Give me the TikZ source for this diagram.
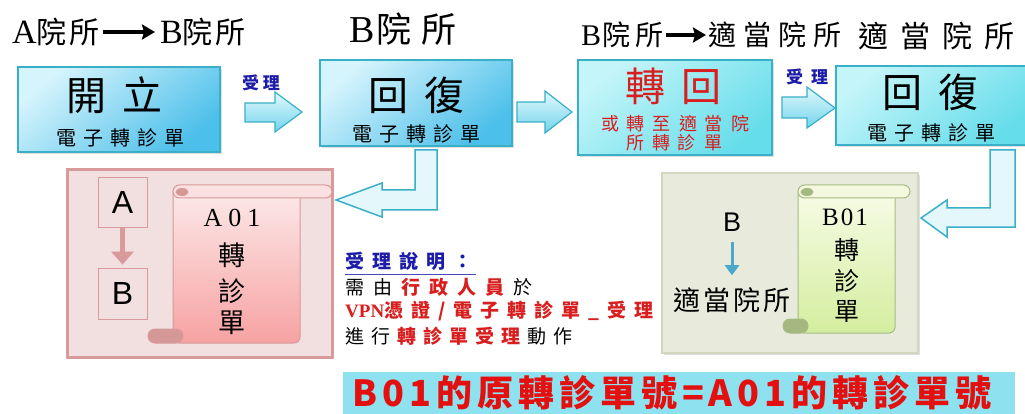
\documentclass[tikz,border=0pt]{standalone}
\usepackage{fontspec}
\setmainfont{Liberation Serif}
\newfontfamily\cjk{Noto Sans CJK TC}
\newfontfamily\arialf{Liberation Sans}
\usetikzlibrary{arrows.meta,shadows}
\definecolor{boxline}{HTML}{3AAFC8}
\definecolor{blueL}{HTML}{D6F4FC}
\definecolor{blueD}{HTML}{4CBFEA}
\definecolor{cyanL}{HTML}{C4F5F9}
\definecolor{cyanD}{HTML}{66DDEA}
\definecolor{arrL}{HTML}{E2F9FD}
\definecolor{arrD}{HTML}{72D4EC}
\definecolor{bentfill}{HTML}{E4F8FC}
\definecolor{redtxt}{HTML}{D81E1E}
\definecolor{bluetxt}{HTML}{1C1CA8}
\definecolor{pinkfill}{HTML}{F2DFDF}
\definecolor{pinkline}{HTML}{D89A9A}
\definecolor{pinkTop}{HTML}{FCE8E8}
\definecolor{pinkBot}{HTML}{F7A2A2}
\definecolor{pinkRoll}{HTML}{FAE0E0}
\definecolor{pinkCurl}{HTML}{D69797}
\definecolor{greenfill}{HTML}{E8EBDB}
\definecolor{greenline}{HTML}{D2D8C0}
\definecolor{gTop}{HTML}{F7FBE6}
\definecolor{gBot}{HTML}{D3EE9E}
\definecolor{gLine}{HTML}{A8BA86}
\definecolor{gRoll}{HTML}{F3F8DE}
\definecolor{gCurl}{HTML}{A4B880}
\definecolor{bararrow}{HTML}{4AA8CC}
\definecolor{barfill}{HTML}{8EE2F0}
\definecolor{bartxt}{HTML}{E41010}
\makeatletter
\newcommand\spaced[2]{\def\sp@gap{\hspace{#1}}\let\sp@sep\relax\@tfor\sp@c:=#2\do{\sp@sep\sp@c\let\sp@sep\sp@gap}}
\makeatother
\newcommand\myscroll[7]{%
 \path[#7body] (#2,#5+6.5) -- (#3,#5+6.5) {[rounded corners=6pt] -- (#3,#6) -- (#2,#6)} -- cycle;
 \path[#7curl, rounded corners=7pt] (#1,#6-14) rectangle (#2+10,#6);
 \path[#7roll, rounded corners=6.5pt] (#2,#5) rectangle (#4,#5+13);
 \path[#7curl] (#2+9,#5+7) ellipse (6 and 3.5);
}
\begin{document}
\begin{tikzpicture}[x=1pt,y=-1pt,
  bluebox/.style={draw=boxline, line width=1.5pt, top color=blueL, bottom color=blueD, shading angle=40,
     drop shadow={shadow xshift=2pt, shadow yshift=-2pt, opacity=0.25}, inner sep=0},
  cyanbox/.style={draw=boxline, line width=1.5pt, top color=cyanL, bottom color=cyanD, shading angle=40,
     drop shadow={shadow xshift=2pt, shadow yshift=-2pt, opacity=0.25}, inner sep=0},
  blkarrow/.style={draw=boxline, line width=1.2pt, top color=arrL, bottom color=arrD, line join=miter},
  bentarrow/.style={draw=boxline, line width=1.5pt, fill=bentfill, line join=miter},
  bigtxt/.style={font=\cjk\fontsize{40}{44}\selectfont, inner sep=0},
  smalltxt/.style={font=\cjk\fontsize{20}{22}\selectfont, inner sep=0},
  acctxt/.style={font=\cjk\bfseries\fontsize{17}{19}\selectfont, text=bluetxt, inner sep=0},
  ttl/.style={inner sep=0, anchor=west},
  ttlarr/.style={line width=3.2pt, -{Stealth[length=13pt,width=15pt,inset=2pt]}},
  pinkpanel/.style={draw=pinkline, line width=3pt, fill=pinkfill,
     drop shadow={shadow xshift=2pt, shadow yshift=-2pt, opacity=0.25}, inner sep=0},
  greenpanel/.style={draw=greenline, line width=1.2pt, fill=greenfill,
     drop shadow={shadow xshift=2pt, shadow yshift=-2pt, opacity=0.25}, inner sep=0},
  letterbox/.style={draw=pinkline, line width=0.8pt, inner sep=0, font=\arialf\fontsize{32}{34}\selectfont},
  pbody/.style={top color=pinkTop, bottom color=pinkBot, draw=pinkline, line width=1pt},
  proll/.style={fill=pinkRoll, draw=pinkline, line width=1pt},
  pcurl/.style={fill=pinkCurl, draw=pinkline, line width=1pt},
  gbody/.style={top color=gTop, bottom color=gBot, draw=gLine, line width=1pt},
  groll/.style={fill=gRoll, draw=gLine, line width=1pt},
  gcurl/.style={fill=gCurl, draw=gLine, line width=1pt},
  scrtxt/.style={font=\cjk\fontsize{27}{29}\selectfont, inner sep=0},
  desc/.style={anchor=west, inner sep=0, font=\cjk\fontsize{19}{21}\selectfont}]
\useasboundingbox (0,0) rectangle (1025,414);
\fill[white] (0,0) rectangle (1025,414);
\clip (0,0) rectangle (1025,414);

% ---- titles
\node[ttl] (t1a) at (12,32) {{\fontsize{34}{36}\selectfont A}{\cjk\fontsize{30}{32}\selectfont 院\hspace{3pt}所}};
\node[ttl] (t1b) at (160,32) {{\fontsize{34}{36}\selectfont B}{\cjk\fontsize{30}{32}\selectfont 院\hspace{3pt}所}};
\draw[ttlarr, shorten <=3pt, shorten >=5pt] (t1a.east) -- (t1b.west);
\node[ttl] (t2) at (349,29) {{\fontsize{38}{40}\selectfont B}\hspace{2pt}{\cjk\fontsize{35}{37}\selectfont 院\hspace{10pt}所}};
\node[ttl] (t3a) at (581,35) {{\fontsize{30}{32}\selectfont B}\hspace{1pt}{\cjk\fontsize{28}{30}\selectfont 院\hspace{5pt}所}};
\node[ttl] (t3b) at (708,35) {\cjk\fontsize{28}{30}\selectfont\spaced{7pt}{適當院所}};
\draw[ttlarr, shorten <=3pt, shorten >=2pt] (t3a.east) -- (t3b.west);
\node[ttl] (t4) at (858,36) {\cjk\fontsize{30}{32}\selectfont\spaced{12pt}{適當院所}};

% ---- top boxes
\node[bluebox, minimum width=202, minimum height=85] (b1) at (119,109.5) {};
\node[bigtxt] (b1t) at (114,95) {開\hspace{16pt}立};
\node[smalltxt] (b1s) at (120,138) {\spaced{7pt}{電子轉診單}};

\node[bluebox, minimum width=192, minimum height=86] (b2) at (416,103) {};
\node[bigtxt] (b2t) at (416,95) {回\hspace{16pt}復};
\node[smalltxt] (b2s) at (416,134) {\spaced{7pt}{電子轉診單}};

\node[cyanbox, minimum width=194, minimum height=95] (b3) at (675,107.5) {};
\node[bigtxt, text=redtxt] (b3t) at (673,86) {轉\hspace{16pt}回};
\node[inner sep=0, text=redtxt, font=\cjk\fontsize{18}{20}\selectfont] (b3s1) at (675,124) {\spaced{8pt}{或轉至適當院}};
\node[inner sep=0, text=redtxt, font=\cjk\fontsize{18}{20}\selectfont] (b3s2) at (674,143) {\spaced{8pt}{所轉診單}};

\node[cyanbox, minimum width=194, minimum height=79] (b4) at (933,105.5) {};
\node[bigtxt] (b4t) at (930,92) {回\hspace{16pt}復};
\node[smalltxt] (b4s) at (931,133) {\spaced{7pt}{電子轉診單}};

% ---- block arrows between boxes
\node[acctxt] (acc1) at (261,83) {受\hspace{4pt}理};
\draw[blkarrow] (245,103) -- (275,103) -- (275,92) -- (302,112) -- (275,132) -- (275,122) -- (245,122) -- cycle;
\draw[blkarrow] (517,102) -- (545,102) -- (545,91) -- (572,112) -- (545,133) -- (545,122) -- (517,122) -- cycle;
\node[acctxt] (acc2) at (807,77) {受\hspace{8pt}理};
\draw[blkarrow] (782,97) -- (807,97) -- (807,87) -- (835,108) -- (807,128) -- (807,118) -- (782,118) -- cycle;

% ---- bent arrows
\draw[bentarrow] (415,150) -- (437,150) -- (437,210) -- (382,210) -- (382,217) -- (336,200) -- (382,183) -- (382,190) -- (415,190) -- cycle;
\draw[bentarrow] (990,150) -- (1015,150) -- (1015,227) -- (947,227) -- (947,237) -- (921,218) -- (947,200) -- (947,208) -- (990,208) -- cycle;

% ---- pink panel
\node[pinkpanel, minimum width=265, minimum height=187] (pp) at (199.5,263.5) {};
\node[letterbox, minimum width=49, minimum height=50] (pA) at (122.5,202) {A};
\node[letterbox, minimum width=49, minimum height=51] (pB) at (122.5,293.5) {B};
\draw[pinkline, line width=5pt, -{Triangle[length=13pt,width=22pt]}, shorten >=3pt] (pA.south) -- (pB.north);
\myscroll{148}{173}{300}{332}{185}{343}{p}
\node[inner sep=0, font=\fontsize{26}{28}\selectfont] (pa01) at (232,218) {A\hspace{6pt}0\hspace{6pt}1};
\node[scrtxt] (pz1) at (232,255) {轉};
\node[scrtxt] (pz2) at (232,291) {診};
\node[scrtxt] (pz3) at (232,323) {單};

% ---- description text
\node[desc, text=bluetxt, font=\cjk\bfseries\fontsize{19}{21}\selectfont] (d1) at (345,261) {\spaced{8pt}{受理說明：}};
\draw[bluetxt!80, line width=1.3pt] ([yshift=-4pt]d1.south west) -- ([yshift=-4pt,xshift=4pt]d1.south east);
\node[desc] (d2) at (345,287) {\spaced{9pt}{需由}\hspace{9pt}\textcolor{redtxt}{\bfseries\spaced{9pt}{行政人員}}\hspace{9pt}於};
\node[desc] (d3) at (345,311) {\textcolor{redtxt}{{\rmfamily\bfseries VPN}\bfseries\spaced{8pt}{憑證/電子轉診單\_受理}}};
\node[desc] (d4) at (345,336) {\spaced{7pt}{進行}\hspace{7pt}\textcolor{redtxt}{\bfseries\spaced{7pt}{轉診單受理}}\hspace{7pt}\spaced{7pt}{動作}};

% ---- green panel
\node[greenpanel, minimum width=256, minimum height=180] (gp) at (790,263) {};
\node[inner sep=0, font=\arialf\fontsize{27}{29}\selectfont] (gB) at (732,222) {B};
\node[inner sep=0, font=\cjk\fontsize{27}{29}\selectfont] (gT) at (732,300) {\spaced{3pt}{適當院所}};
\draw[bararrow, line width=3pt, -{Triangle[length=10pt,width=14pt]}, shorten <=11pt, shorten >=12pt] (gB.south) -- (gT.north);
\myscroll{783}{798}{895}{910}{185}{333}{g}
\node[inner sep=0, font=\fontsize{25}{27}\selectfont] (gb01) at (845,217) {B\hspace{2pt}0\hspace{2pt}1};
\node[scrtxt, font=\cjk\fontsize{25}{27}\selectfont] (gz1) at (847,250) {轉};
\node[scrtxt, font=\cjk\fontsize{25}{27}\selectfont] (gz2) at (847,281) {診};
\node[scrtxt, font=\cjk\fontsize{25}{27}\selectfont] (gz3) at (847,311) {單};

% ---- bottom bar
\node[fill=barfill, minimum width=672, minimum height=44, inner sep=0] (bar) at (679,394) {};
\node[anchor=west, inner sep=0, text=bartxt, font=\cjk\bfseries\fontsize{36}{40}\selectfont] (bart) at (352,393) {\spaced{5pt}{B01的原轉診單號=A01的轉診單號}};
\end{tikzpicture}
\end{document}
